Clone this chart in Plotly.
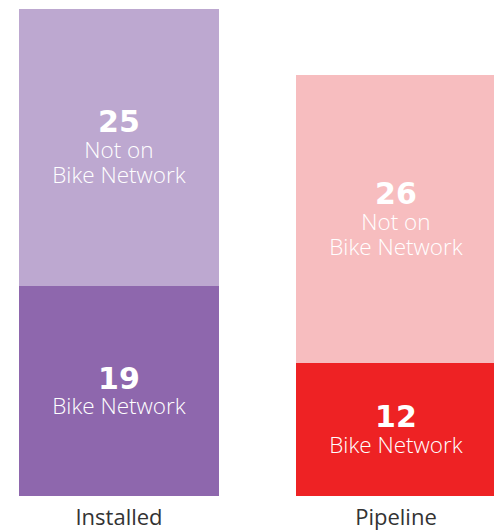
import plotly.graph_objects as go

categories = ["Installed", "Pipeline"]
on_network = [19, 12]
off_network = [25, 26]
on_colors = ["#8E67AD", "#EE2224"]
off_colors = ["#BDA8D0", "#F7BDBF"]

LIGHT = "Open Sans"


def label(n, lines):
    # base font sets the line gap, spans set the real sizes
    num = f"<span style='font-family:DejaVu Sans;font-weight:bold;font-size:30px'>{n}</span>"
    rest = "<br>".join(f"<span style='font-size:22.5px'>{t}</span>" for t in lines)
    return num + "<br>" + rest


fig = go.Figure()
fig.add_bar(
    x=categories,
    y=on_network,
    marker=dict(color=on_colors, line=dict(width=0)),
    text=[label(v, ["Bike Network"]) for v in on_network],
    textposition="inside",
    insidetextanchor="middle",
    textangle=0,
    textfont=dict(family=LIGHT, size=19.5, color="white", weight=300),
    width=0.722,
    hoverinfo="skip",
)
fig.add_bar(
    x=categories,
    y=off_network,
    marker=dict(color=off_colors, line=dict(width=0)),
    text=[label(v, ["Not on", "Bike Network"]) for v in off_network],
    textposition="inside",
    insidetextanchor="middle",
    textangle=0,
    textfont=dict(family=LIGHT, size=19.5, color="white", weight=300),
    width=0.722,
    hoverinfo="skip",
)
fig.update_layout(
    barmode="stack",
    width=494,
    height=532,
    showlegend=False,
    margin=dict(l=0, r=0, t=0, b=36),
    plot_bgcolor="white",
    paper_bgcolor="white",
    xaxis=dict(
        range=[-0.4296, 1.3538],
        showgrid=False,
        zeroline=False,
        showline=False,
        ticks="",
        ticklabelstandoff=6,
        tickfont=dict(family=LIGHT, size=22, color="#333333", weight=400),
    ),
    yaxis=dict(range=[0, 44.8], visible=False),
)

# page has a default 8px body margin, drop it so the figure sits at 0,0
fig.write_html("out.html", config={"displayModeBar": False},
               post_script="document.body.style.margin='0px';")
